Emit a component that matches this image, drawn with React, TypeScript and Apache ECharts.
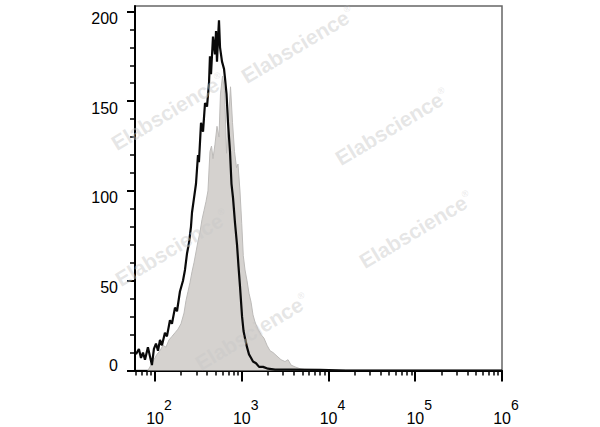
import React, { useEffect, useRef } from "react";
import * as echarts from "echarts";

// Histogram bins: log10(fluorescence intensity) and event counts
const BLACK_LOGX = [
  1.781, 1.815, 1.839, 1.862, 1.885, 1.919, 1.942, 1.965, 1.988, 2.012, 2.035, 2.058, 2.081,
  2.115, 2.138, 2.173, 2.196, 2.231, 2.254, 2.288, 2.323, 2.346, 2.369, 2.392, 2.415, 2.427,
  2.45, 2.473, 2.496, 2.507, 2.531, 2.554, 2.577, 2.6, 2.623, 2.634, 2.646, 2.669, 2.692, 2.704,
  2.715, 2.727, 2.738, 2.75, 2.773, 2.796, 2.807, 2.825, 2.842, 2.865, 2.882, 2.9, 2.923, 2.946,
  2.963, 2.98, 3.004, 3.021, 3.038, 3.061, 3.084, 3.108, 3.13, 3.165, 3.2, 3.246, 3.303, 3.384,
  3.557, 3.903, 4.2, 6.0,
];
const BLACK_COUNT = [
  9, 12, 7, 10, 6, 13, 8, 3, 12, 15, 11, 17, 14,
  21, 19, 28, 26, 35, 33, 44, 50, 56, 65, 71, 80, 88,
  96, 104, 120, 116, 138, 133, 149, 147, 160, 175, 165, 186, 176, 189,
  172, 185, 195, 180, 172, 168, 163, 154, 138, 122, 104, 96, 82, 70,
  58, 47, 30, 22, 18, 13, 9, 7, 5, 4, 2, 2, 1, 0.5,
  0.5, 0.3, 0, 0,
];
const GREY_LOGX = [
  1.919, 1.954, 1.988, 2.023, 2.058, 2.092, 2.127, 2.161, 2.196, 2.231, 2.265, 2.3, 2.335,
  2.358, 2.381, 2.404, 2.427, 2.45, 2.473, 2.496, 2.519, 2.542, 2.565, 2.588, 2.611, 2.634,
  2.652, 2.669, 2.692, 2.715, 2.738, 2.755, 2.779, 2.802, 2.825, 2.848, 2.871, 2.894, 2.917,
  2.94, 2.957, 2.98, 3.0, 3.018, 3.038, 3.061, 3.084, 3.108, 3.13, 3.153, 3.188, 3.223, 3.257,
  3.292, 3.326, 3.361, 3.407, 3.453, 3.499, 3.534, 3.569, 3.615, 3.672, 3.73, 3.788,
];
const GREY_COUNT = [
  0, 3, 6, 9, 11, 14, 13, 17, 19, 21, 23, 26, 32,
  39, 44, 49, 55, 60, 66, 72, 77, 84, 89, 94, 100, 122,
  125, 118, 126, 136, 130, 154, 164, 156, 121, 140, 158, 138, 122,
  113, 115, 100, 82, 64, 56, 50, 43, 38, 31, 27, 23, 20, 18,
  14, 11, 10, 8, 6, 5, 6, 3, 2, 1, 0.5, 0,
];

// Axes
const X_MIN = 1.77;
const X_MAX = 6;
const X_MAJOR = [2, 3, 4, 5, 6];
const Y_MAX = 203;
const Y_MAJOR = [0, 50, 100, 150, 200];
const Y_MINOR = [10, 20, 30, 40, 60, 70, 80, 90, 110, 120, 130, 140, 160, 170, 180, 190];

const X_MINOR: number[] = [];
for (let d = 1; d <= 5; d++) {
  for (let k = 2; k <= 9; k++) {
    const v = Math.log10(k) + d;
    if (v >= X_MIN && v <= X_MAX) X_MINOR.push(v);
  }
}

const WATERMARKS = [
  [298, 45],
  [168, 112],
  [392, 127],
  [172, 248],
  [416, 230],
  [252, 332],
];

const FONT = "'Liberation Sans', Arial, Helvetica, sans-serif";

export default function App() {
  const ref = useRef<HTMLDivElement>(null);
  useEffect(() => {
    if (!ref.current) return;
    const chart = echarts.init(ref.current, null, { renderer: "svg" });
    const black = BLACK_LOGX.map((x, i) => [x, BLACK_COUNT[i]]);
    const grey = GREY_LOGX.map((x, i) => [x, GREY_COUNT[i]]);
    chart.setOption({
      animation: false,
      backgroundColor: "#ffffff",
      grid: {
        left: 135,
        right: 98,
        top: 6,
        bottom: 56.5,
        show: true,
        borderColor: "#666",
        borderWidth: 1.5,
        backgroundColor: "transparent",
      },
      xAxis: [
        {
          type: "value",
          min: X_MIN,
          max: X_MAX,
          position: "bottom",
          axisLine: { show: true, onZero: false, lineStyle: { color: "#000", width: 2 } },
          axisTick: { show: true, customValues: X_MAJOR, length: 11, lineStyle: { color: "#000", width: 2 } },
          axisLabel: {
            show: true,
            customValues: X_MAJOR,
            margin: 40,
            padding: [0, 0, 0, 8],
            verticalAlign: "top",
            formatter: (v: number) => `{b|10}{s|${Math.round(v)}}`,
            rich: {
              b: { fontSize: 16, lineHeight: 16, verticalAlign: "bottom", color: "#000", fontFamily: FONT },
              s: {
                fontSize: 14,
                lineHeight: 14,
                padding: [0, 0, 15, 0],
                verticalAlign: "bottom",
                color: "#000",
                fontFamily: FONT,
              },
            },
          },
          splitLine: { show: false },
        },
        {
          type: "value",
          min: X_MIN,
          max: X_MAX,
          position: "bottom",
          axisLine: { show: false, onZero: false },
          axisTick: { show: true, customValues: X_MINOR, length: 5, lineStyle: { color: "#000", width: 1.5 } },
          axisLabel: { show: false },
          splitLine: { show: false },
        },
      ],
      yAxis: [
        {
          type: "value",
          min: 0,
          max: Y_MAX,
          position: "left",
          axisLine: { show: true, onZero: false, lineStyle: { color: "#000", width: 2 } },
          axisTick: { show: true, customValues: Y_MAJOR, length: 8, lineStyle: { color: "#000", width: 2 } },
          axisLabel: {
            show: true,
            customValues: Y_MAJOR,
            margin: 17,
            formatter: (v: number) => (v === 0 ? `{z|${v}}` : `{n|${v}}`),
            rich: {
              n: { fontSize: 16, color: "#000", fontFamily: FONT, padding: [14, 0, 0, 0] },
              z: { fontSize: 16, color: "#000", fontFamily: FONT, padding: [0, 0, 10, 0] },
            },
          },
          splitLine: { show: false },
        },
        {
          type: "value",
          min: 0,
          max: Y_MAX,
          position: "left",
          axisLine: { show: false, onZero: false },
          axisTick: { show: true, customValues: Y_MINOR, length: 5, lineStyle: { color: "#000", width: 1.5 } },
          axisLabel: { show: false },
          splitLine: { show: false },
        },
      ],
      series: [
        {
          type: "line",
          data: grey,
          xAxisIndex: 0,
          yAxisIndex: 0,
          showSymbol: false,
          symbol: "none",
          lineStyle: { color: "#bdbbb9", width: 1 },
          areaStyle: { color: "#d5d2cf", opacity: 1 },
          z: 2,
        },
        {
          type: "line",
          data: black,
          xAxisIndex: 0,
          yAxisIndex: 0,
          showSymbol: false,
          symbol: "none",
          lineStyle: { color: "#0a0a0a", width: 2.2 },
          z: 3,
        },
      ],
      graphic: WATERMARKS.map(([x, y]) => ({
        type: "text",
        x,
        y,
        rotation: 0.54,
        z: 100,
        silent: true,
        style: {
          text: "Elabscience{r|®}",
          align: "center",
          verticalAlign: "middle",
          fontSize: 21,
          fontWeight: "bold",
          fontFamily: FONT,
          fill: "rgba(200,200,200,0.45)",
          rich: {
            r: { fontSize: 9, verticalAlign: "top", fill: "rgba(200,200,200,0.45)", fontFamily: FONT },
          },
        },
      })),
    });
    return () => chart.dispose();
  }, []);
  return (
    <div
      ref={ref}
      style={{ position: "fixed", left: 0, top: 0, width: 600, height: 427, background: "#fff" }}
    />
  );
}
